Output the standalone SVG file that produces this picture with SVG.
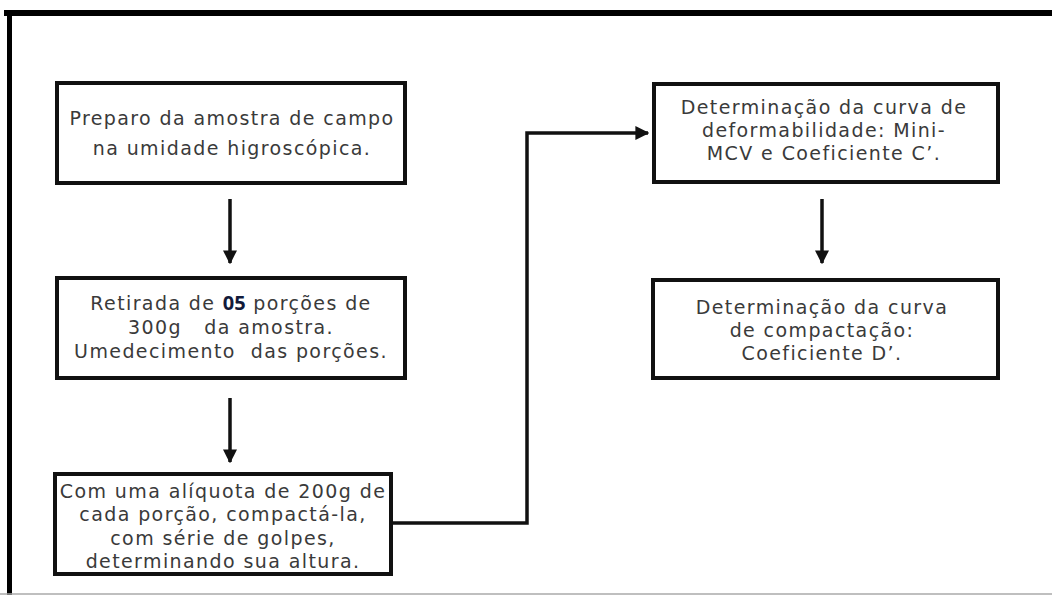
<svg xmlns="http://www.w3.org/2000/svg" width="1052" height="595" viewBox="0 0 1052 595">
  <style>
    .box { fill: #ffffff; stroke: #111111; stroke-width: 4; }
    .t { font-family: "DejaVu Sans", "Liberation Sans", sans-serif; font-size: 19px; fill: #3a3a3a; text-anchor: middle; letter-spacing: 1.4px; }
    .b { font-family: "Open Sans", "DejaVu Sans", sans-serif; font-weight: bold; font-size: 20px; fill: #121a3a; letter-spacing: 0; }
    .c { fill: none; stroke: #111111; stroke-width: 3.5; }
  </style>
  <defs>
    <marker id="ah" markerWidth="4" markerHeight="4" refX="3.6" refY="2" orient="auto" markerUnits="strokeWidth">
      <path d="M0,0 L4,2 L0,4 Z" fill="#111111"/>
    </marker>
  </defs>
  <rect x="0" y="0" width="1052" height="595" fill="#ffffff"/>
  <g id="frame">
    <line x1="4" y1="13" x2="1052" y2="13" stroke="#000" stroke-width="6"/>
    <line x1="9.5" y1="10" x2="9.5" y2="595" stroke="#000" stroke-width="5"/>
    <line x1="0" y1="594" x2="1052" y2="594" stroke="#aaaaaa" stroke-width="1.5"/>
  </g>
  <g id="connectors">
    <line class="c" x1="230" y1="199" x2="230" y2="263" marker-end="url(#ah)"/>
    <line class="c" x1="230" y1="398" x2="230" y2="462" marker-end="url(#ah)"/>
    <line class="c" x1="822" y1="199" x2="822" y2="263" marker-end="url(#ah)"/>
    <polyline class="c" points="393,523 527,523 527,133 648,133" marker-end="url(#ah)"/>
  </g>
  <g id="n1">
    <rect class="box" x="57" y="83" width="348" height="100"/>
    <text class="t" x="232" y="125">Preparo da amostra de campo</text>
    <text class="t" x="232" y="155">na umidade higroscópica.</text>
  </g>
  <g id="n2">
    <rect class="box" x="57" y="278" width="348" height="100"/>
    <text class="t" x="231" y="310">Retirada de <tspan class="b">05</tspan> porções de</text>
    <text class="t" x="231" y="334">300g&#160;&#160; da amostra.</text>
    <text class="t" x="231" y="358">Umedecimento&#160; das porções.</text>
  </g>
  <g id="n3">
    <rect class="box" x="55" y="474" width="336" height="100"/>
    <text class="t" x="223" y="498">Com uma alíquota de 200g de</text>
    <text class="t" x="223" y="521">cada porção, compactá-la,</text>
    <text class="t" x="223" y="545">com série de golpes,</text>
    <text class="t" x="223" y="568">determinando sua altura.</text>
  </g>
  <g id="n4">
    <rect class="box" x="654" y="84" width="344" height="98"/>
    <text class="t" x="824" y="114">Determinação da curva de</text>
    <text class="t" x="824" y="137">deformabilidade: Mini-</text>
    <text class="t" x="824" y="160">MCV e Coeficiente C’.</text>
  </g>
  <g id="n5">
    <rect class="box" x="653" y="280" width="345" height="98"/>
    <text class="t" x="822" y="314">Determinação da curva</text>
    <text class="t" x="822" y="337">de compactação:</text>
    <text class="t" x="822" y="360">Coeficiente D’.</text>
  </g>
</svg>
